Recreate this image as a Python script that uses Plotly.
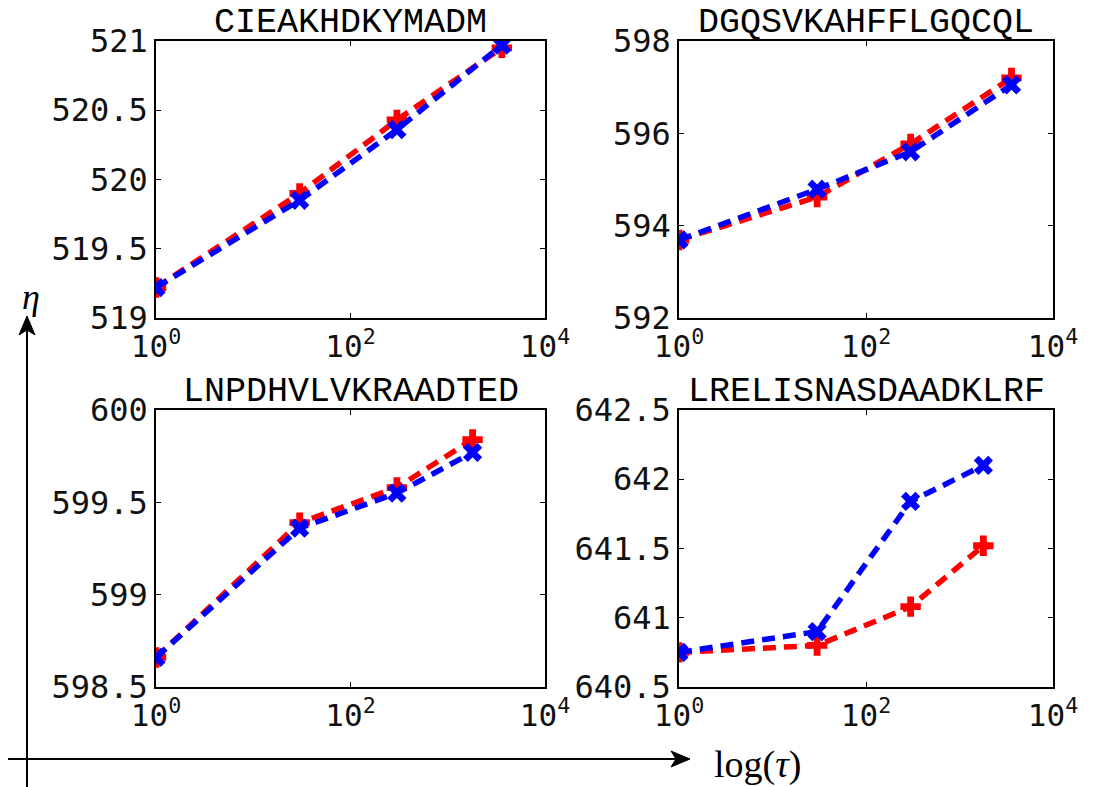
import plotly.graph_objects as go

# ---- data ----
titles = ["CIEAKHDKYMADM", "DGQSVKAHFFLGQCQL", "LNPDHVLVKRAADTED", "LRELISNASDAADKLRF"]
tau_top = [1, 30, 300, 3600]
tau_bottom = [1, 30, 300, 1800]

red_1 = [519.22, 519.90, 520.43, 520.95]
blue_1 = [519.22, 519.85, 520.36, 520.97]
red_2 = [593.69, 594.62, 595.77, 597.20]
blue_2 = [593.69, 594.79, 595.60, 597.05]
red_3 = [598.66, 599.39, 599.58, 599.84]
blue_3 = [598.66, 599.36, 599.55, 599.77]
red_4 = [640.75, 640.80, 641.08, 641.52]
blue_4 = [640.75, 640.90, 641.84, 642.10]

y_ranges = [[519, 521], [592, 598], [598.5, 600], [640.5, 642.5]]
y_ticks = [[519, 519.5, 520, 520.5, 521], [592, 594, 596, 598],
           [598.5, 599, 599.5, 600], [640.5, 641, 641.5, 642, 642.5]]
y_ticktext = [["519", "519.5", "520", "520.5", "521"], ["592", "594", "596", "598"],
              ["598.5", "599", "599.5", "600"], ["640.5", "641", "641.5", "642", "642.5"]]
x_tickvals = [1, 100, 10000]
x_ticktext = ["10<sup>0</sup>", "10<sup>2</sup>", "10<sup>4</sup>"]

W, H = 1101, 787
def px(x): return x / W
def py(y): return 1 - y / H

x_domains = [[px(156), px(545)], [px(679), px(1053)], [px(156), px(545)], [px(679), px(1053)]]
y_domains = [[py(318), py(41)], [py(318), py(41)], [py(687), py(410)], [py(687), py(410)]]

series = [(tau_top, red_1, blue_1), (tau_top, red_2, blue_2),
          (tau_bottom, red_3, blue_3), (tau_bottom, red_4, blue_4)]

fig = go.Figure()
ytickfont = dict(family="DejaVu Sans Mono", size=32, color="#111")
xtickfont = dict(family="DejaVu Sans Mono", size=31, color="#111")
for i, (xs, r, b) in enumerate(series):
    n = "" if i == 0 else str(i + 1)
    fig.add_trace(go.Scatter(x=xs, y=r, mode="lines+markers", xaxis="x" + n, yaxis="y" + n,
                             line=dict(color="#ff0000", width=5.5, dash="13px,8px"),
                             marker=dict(symbol="cross", size=17, color="#ff0000"),
                             showlegend=False))
    fig.add_trace(go.Scatter(x=xs, y=b, mode="lines+markers", xaxis="x" + n, yaxis="y" + n,
                             line=dict(color="#0000ff", width=5.5, dash="13px,8px"),
                             marker=dict(symbol="x", size=17, color="#0000ff"),
                             showlegend=False))
    ax = dict(type="log", range=[0, 4], domain=x_domains[i], anchor="y" + n,
              tickvals=x_tickvals, ticktext=x_ticktext, ticks="inside", ticklen=5,
              tickcolor="black", showline=True, linecolor="black", linewidth=1.5,
              mirror="ticks", showgrid=False, zeroline=False, tickfont=xtickfont)
    ay = dict(range=y_ranges[i], domain=y_domains[i], anchor="x" + n,
              tickvals=y_ticks[i], ticktext=y_ticktext[i], ticks="inside", ticklen=5,
              tickcolor="black", showline=True, linecolor="black", linewidth=1.5,
              mirror="ticks", showgrid=False, zeroline=False, tickfont=ytickfont)
    fig.layout["xaxis" + n] = ax
    fig.layout["yaxis" + n] = ay
    fig.add_annotation(text=titles[i], xref="paper", yref="paper",
                       x=sum(x_domains[i]) / 2, y=y_domains[i][1], xanchor="center",
                       yanchor="bottom", showarrow=False, yshift=-4,
                       font=dict(family="Liberation Mono", size=35, color="black"))

# big axes arrows (lines + heads as shapes)
fig.add_shape(type="line", xref="paper", yref="paper", x0=px(8), x1=px(680), y0=py(759), y1=py(759),
              line=dict(color="black", width=2))
fig.add_shape(type="line", xref="paper", yref="paper", x0=px(27), x1=px(27), y0=py(787), y1=py(327),
              line=dict(color="black", width=2))
hx = [690, 671, 676, 671]
hy = [759, 751, 759, 767]
fig.add_shape(type="path", xref="paper", yref="paper",
              path="M %f %f L %f %f L %f %f L %f %f Z" % (px(hx[0]), py(hy[0]), px(hx[1]), py(hy[1]),
                                                         px(hx[2]), py(hy[2]), px(hx[3]), py(hy[3])),
              fillcolor="black", line=dict(color="black", width=1))
vx = [27, 19, 27, 35]
vy = [316, 335, 330, 335]
fig.add_shape(type="path", xref="paper", yref="paper",
              path="M %f %f L %f %f L %f %f L %f %f Z" % (px(vx[0]), py(vy[0]), px(vx[1]), py(vy[1]),
                                                         px(vx[2]), py(vy[2]), px(vx[3]), py(vy[3])),
              fillcolor="black", line=dict(color="black", width=1))
fig.add_annotation(text="<i>η</i>", xref="paper", yref="paper", x=px(31), y=py(297),
                   xanchor="center", yanchor="middle",
                   showarrow=False, font=dict(family="Liberation Serif", size=36, color="black"))
fig.add_annotation(text="log(<i>τ</i>)", xref="paper", yref="paper", x=px(757), y=py(764),
                   xanchor="center", yanchor="middle",
                   showarrow=False, font=dict(family="Liberation Serif", size=38, color="black"))

fig.update_layout(width=W, height=H, margin=dict(l=0, r=0, t=0, b=0, autoexpand=False),
                  paper_bgcolor="white", plot_bgcolor="white")
fig.write_html("out.html")
